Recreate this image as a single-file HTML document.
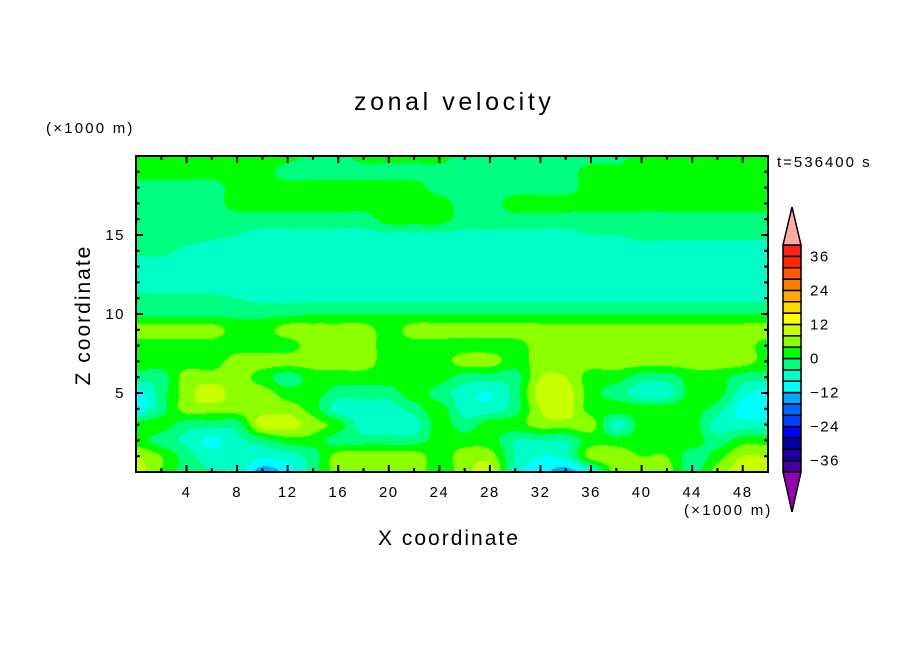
<!DOCTYPE html>
<html><head><meta charset="utf-8"><style>
body{margin:0;background:#fff;}
#wrap{position:relative;width:904px;height:654px;overflow:hidden;background:#fff;font-family:"Liberation Sans",sans-serif;}
.t{position:absolute;white-space:nowrap;color:#000;}
</style></head><body>
<div id="wrap">
<div class="t" style="left:354px;top:88px;font-size:25px;letter-spacing:3.6px;">zonal velocity</div>
<div class="t" style="left:46px;top:120px;font-size:15px;letter-spacing:2.2px;">(×1000 m)</div>
<div class="t" style="left:777px;top:154px;font-size:15px;letter-spacing:2px;">t=536400 s</div>
<div class="t" style="left:684px;top:502px;font-size:15px;letter-spacing:2.2px;">(×1000 m)</div>
<div class="t" style="left:378px;top:527px;font-size:21px;letter-spacing:2px;">X coordinate</div>
<div class="t" style="left:84px;top:315px;font-size:21px;letter-spacing:2px;transform:translate(-50%,-50%) rotate(-90deg);">Z coordinate</div>
<canvas id="field" width="632" height="316" style="position:absolute;left:136px;top:156px;"></canvas>
<svg id="ov" width="904" height="654" style="position:absolute;left:0;top:0;"></svg>
</div>
<script>
const xGrid=[0,2,4,6,8,10,12,14,16,18,20,22,24,26,28,30,32,34,36,38,40,42,44,46,48,50];
const zGrid=[0,1,2,3,4,5,6,7,8,9,10,11,12,13,14,15,16,17,18,19,20];
const u0=[10,4,-2,-4,-6,-14,-10,-2,6,6,6,6,2,6,10,-6,-10,-14,-8,6,6,6,-2,6,10,10];
const u1=[8,4,-2,-6,-4,-7,-6,-2,6,6,6,6,2,6,6,-4,-8,-6,6,6,4,4,-2,2,8,8];
const u2=[2,-2,-5,-9,-5,-2,2,2,-2,-2,-2,-2,2,2,2,-4,-4,-4,2,2,2,2,2,-2,2,2];
const u3=[2,2,-2,-2,-2,10,10,6,2,-6,-6,-6,2,-2,2,2,6,6,6,-6,2,2,2,-6,-6,-6];
const u4=[-10,-2,6,6,6,6,6,2,-6,-6,-6,-2,2,-6,-6,-2,8,10,2,2,2,2,2,-2,-10,-10];
const u5=[-10,-2,6,10,6,6,2,2,-2,-2,-2,2,-2,-6,-8,-2,10,10,2,-2,-6,-6,2,2,-6,-10];
const u6=[-2,-2,6,6,6,2,-2,2,2,2,2,2,2,-2,-2,-2,8,8,2,2,-2,-2,2,2,-2,-2];
const u7=[2,2,2,2,6,6,6,6,6,6,2,2,2,6,6,2,6,6,6,6,6,6,6,6,6,2];
const u8=[2,2,2,2,2,2,2,6,6,6,2,2,2,2,2,2,6,6,6,6,6,6,6,6,6,2];
const u9=[6,6,6,6,2,2,6,6,6,6,2,6,6,6,6,6,6,6,6,6,6,6,6,6,6,6];
const u10=[-1,-1,-1,-1,-1,-1,-1,0,0,0,0,0,0,0,0,0,0,0,0,0,0,0,0,0,0,0];
const u11=[-3,-3,-3,-3,-4,-5,-5,-5,-5,-5,-5,-5,-5,-5,-5,-5,-5,-5,-5,-5,-5,-5,-5,-5,-5,-5];
const u12=[-6,-6,-6,-6,-6,-6,-6,-6,-6,-6,-6,-6,-6,-6,-6,-6,-6,-6,-6,-6,-6,-6,-6,-6,-6,-6];
const u13=[-6,-6,-6,-6,-6,-6,-6,-6,-6,-6,-6,-6,-6,-6,-6,-6,-6,-6,-6,-6,-6,-6,-6,-6,-6,-6];
const u14=[-3,-3,-5,-6,-6,-6,-6,-6,-6,-6,-6,-6,-6,-6,-6,-6,-6,-6,-6,-6,-6,-6,-6,-6,-6,-6];
const u15=[-2,-2,-2,-3,-4,-5,-5,-5,-5,-5,-5,-5,-5,-5,-5,-5,-5,-5,-4,-4,-3,-3,-3,-3,-3,-3];
const u16=[-2,-2,-2,-2,-2,-2,-2,-2,-2,-2,2,2,2,-2,-2,-2,-2,-2,-2,-2,-2,-2,-2,-2,-2,-2];
const u17=[-2,-2,-2,-2,2,2,2,2,2,2,2,2,2,-2,-2,2,2,2,2,2,2,2,2,2,2,2];
const u18=[-2,-2,-2,-2,2,2,2,2,2,2,2,2,-2,-2,-2,-2,-2,-2,2,2,2,2,2,2,2,2];
const u19=[2,2,2,2,2,2,-2,-2,-2,-2,-2,-2,-2,-2,-2,-2,-2,-2,2,2,2,2,2,2,2,2];
const u20=[2,2,2,2,2,2,2,-2,-2,2,2,2,2,-2,-2,-2,-2,-2,-2,-2,2,2,2,2,2,2];
const uRows=[u0,u1,u2,u3,u4,u5,u6,u7,u8,u9,u10,u11,u12,u13,u14,u15,u16,u17,u18,u19,u20];
const levelBounds=[-40,-36,-32,-28,-24,-20,-16,-12,-8,-4,0,4,8,12,16,20,24,28,32,36,40];
const levelColors=["#4600a0","#1e00a0","#0000a0","#0000ff","#0040ff","#0064ff","#00aaff","#00ffff","#00ffc8","#00ff80","#00ff00","#8cff00","#c8ff00","#ffff00","#ffdc00","#ffaa00","#ff7d00","#ff5a00","#ff2800","#ff2020"];
const xTickLabels=["4","8","12","16","20","24","28","32","36","40","44","48"];
const yTickLabels=["5","10","15"];
const cbLabels=["36","24","12","0","−12","−24","−36"];
const cbLabelVals=[36,24,12,0,-12,-24,-36];

const PL=136,PT=156,PW=632,PH=316;
const xs=v=>PL+v/50*PW;
const ys=v=>PT+PH-v/20*PH;
function hex(c){return [parseInt(c.substr(1,2),16),parseInt(c.substr(3,2),16),parseInt(c.substr(5,2),16)];}
const rgb=levelColors.map(hex);
function cr(p0,p1,p2,p3,t){return 0.5*((2*p1)+(-p0+p2)*t+(2*p0-5*p1+4*p2-p3)*t*t+(-p0+3*p1-3*p2+p3)*t*t*t);}
const NX=xGrid.length,NZ=zGrid.length;
function g(j,i){i=Math.max(0,Math.min(NX-1,i));j=Math.max(0,Math.min(NZ-1,j));return uRows[j][i];}
function sample(x,z){
  const gx=x/(xGrid[1]-xGrid[0]), gz=z/(zGrid[1]-zGrid[0]);
  let i=Math.min(NX-2,Math.floor(gx)), j=Math.min(NZ-2,Math.floor(gz));
  const fx=gx-i, fz=gz-j;
  const r=[];
  for(let m=-1;m<=2;m++){r.push(cr(g(j+m,i-1),g(j+m,i),g(j+m,i+1),g(j+m,i+2),fx));}
  return cr(r[0],r[1],r[2],r[3],fz);
}
const cv=document.getElementById('field');const ctx=cv.getContext('2d');
const img=ctx.createImageData(PW,PH);
for(let py=0;py<PH;py++){for(let px=0;px<PW;px++){
  const x=(px+0.5)/PW*50, z=(PH-py-0.5)/PH*20;
  const v=sample(x,z);
  let k=Math.floor((v-levelBounds[0])/4);k=Math.max(0,Math.min(levelColors.length-1,k));
  const o=(py*PW+px)*4;img.data[o]=rgb[k][0];img.data[o+1]=rgb[k][1];img.data[o+2]=rgb[k][2];img.data[o+3]=255;
}}
ctx.putImageData(img,0,0);

const NS="http://www.w3.org/2000/svg";const sv=document.getElementById('ov');
function mk(tag,at){const e=document.createElementNS(NS,tag);for(const k in at)e.setAttribute(k,at[k]);sv.appendChild(e);return e;}
for(let v=0;v<=50;v+=2){const L=(v%4===0)?7:4;
  let e=mk('line',{x1:xs(v),x2:xs(v),y1:PT+PH,y2:PT+PH-L,stroke:'#000','stroke-width':2});
  
  e=mk('line',{x1:xs(v),x2:xs(v),y1:PT,y2:PT+L,stroke:'#000','stroke-width':2});
  }
for(let v=0;v<=20;v+=1){const L=(v%5===0)?7:4;
  let e=mk('line',{x1:PL,x2:PL+L,y1:ys(v),y2:ys(v),stroke:'#000','stroke-width':2});
  
  e=mk('line',{x1:PL+PW,x2:PL+PW-L,y1:ys(v),y2:ys(v),stroke:'#000','stroke-width':2});
  }
let fr=mk('rect',{x:PL,y:PT,width:PW,height:PH,fill:'none',stroke:'#000','stroke-width':2});

xTickLabels.forEach(s=>{const t=mk('text',{x:xs(+s),y:497,'text-anchor':'middle','font-size':15,'letter-spacing':1.5,'font-family':'Liberation Sans, sans-serif'});t.textContent=s;
  });
yTickLabels.forEach(s=>{const t=mk('text',{x:125,y:ys(+s)+5,'text-anchor':'end','font-size':15,'letter-spacing':1.5,'font-family':'Liberation Sans, sans-serif'});t.textContent=s;
  });
const CBX=783,CBW=18,CBB=472,CBH=11.35;
const cy=v=>CBB-(v-levelBounds[0])/4*CBH;
levelColors.forEach((c,i)=>{const r=mk('rect',{x:CBX,y:cy(levelBounds[i+1]),width:CBW,height:CBH,fill:c,stroke:'#000','stroke-width':1.5});
  });
let tr=mk('polygon',{points:`${CBX},${cy(40)} ${CBX+CBW},${cy(40)} ${CBX+CBW/2},${cy(40)-38}`,fill:'#ffaaaa',stroke:'#000','stroke-width':1.5});

tr=mk('polygon',{points:`${CBX},${CBB} ${CBX+CBW},${CBB} ${CBX+CBW/2},${CBB+40}`,fill:'#9600b4',stroke:'#000','stroke-width':1.5});

cbLabels.forEach((s,i)=>{const t=mk('text',{x:810,y:cy(cbLabelVals[i])+5,'font-size':15,'letter-spacing':1.5,'font-family':'Liberation Sans, sans-serif'});t.textContent=s;
  });
</script>
</body></html>
